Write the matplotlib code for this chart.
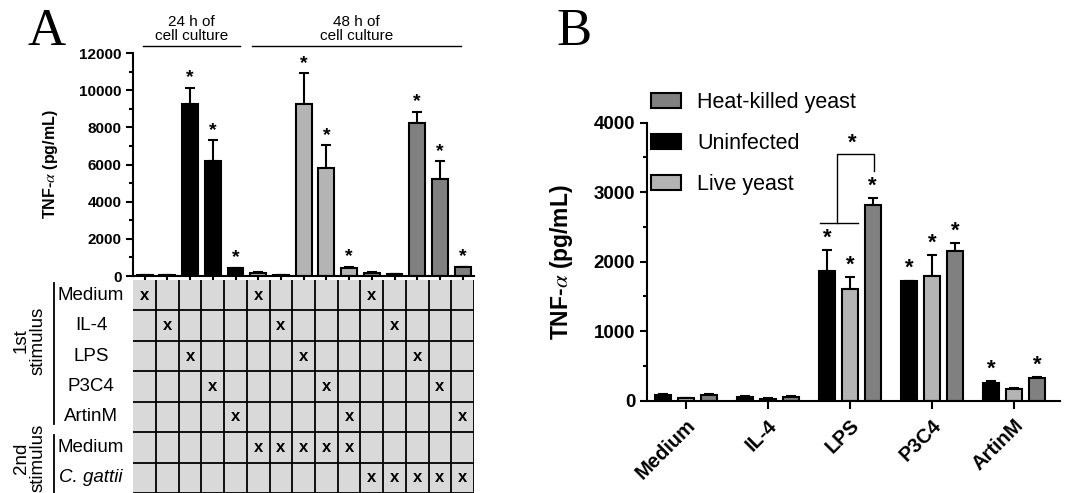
import numpy as np
import matplotlib
matplotlib.use("Agg")
import matplotlib.pyplot as plt
from matplotlib.patches import Patch
from matplotlib.ticker import MultipleLocator

plt.rcParams['font.family'] = ['Liberation Sans', 'DejaVu Sans']
plt.rcParams['mathtext.fontset'] = 'stix'

# ---------------- panel A data ----------------
a_vals = [60, 50, 9250, 6200, 410,
          180, 60, 9250, 5820, 450,
          180, 100, 8230, 5230, 460]
a_err = [20, 10, 880, 1100, 40,
         30, 10, 1660, 1220, 60,
         20, 10, 600, 940, 50]
a_colors = ['#000000'] * 5 + ['#b4b4b4'] * 5 + ['#808080'] * 5
a_star = [0, 0, 1, 1, 1, 0, 0, 1, 1, 1, 0, 0, 1, 1, 1]

row_labels = ['Medium', 'IL-4', 'LPS', 'P3C4', 'ArtinM', 'Medium', 'C. gattii']
first_stim = [0, 1, 2, 3, 4] * 3            # row index of 1st stimulus per column
second_stim = [None] * 5 + [5] * 5 + [6] * 5  # row index of 2nd stimulus per column

# ---------------- panel B data ----------------
groups = ['Medium', 'IL-4', 'LPS', 'P3C4', 'ArtinM']
uninfected = [80, 60, 1866, 1717, 259]
uninfected_err = [15, 10, 300, 12, 25]
live = [35, 30, 1612, 1794, 163]
live_err = [8, 8, 165, 300, 14]
heat = [75, 50, 2810, 2153, 321]
heat_err = [15, 12, 110, 110, 16]
b_star_un = [0, 0, 1, 1, 1]
b_star_live = [0, 0, 1, 1, 0]
b_star_heat = [0, 0, 1, 1, 1]

W, H = 1072, 493
fig = plt.figure(figsize=(W / 100, H / 100), dpi=100)


def box(l, t, r, b):
    return [l / W, 1 - b / H, (r - l) / W, (b - t) / H]


# ================= Panel A bars =================
ax = fig.add_axes(box(133.3, 53, 474, 276))
x = np.arange(len(a_vals))
ax.bar(x, a_vals, width=0.7, color=a_colors, edgecolor='black', linewidth=1.5, zorder=2)
ax.errorbar(x, a_vals, yerr=[np.zeros(len(a_err)), a_err], fmt='none', ecolor='black',
            elinewidth=1.5, capsize=3.5, capthick=1.5, zorder=1)
for xi, v, e, s in zip(x, a_vals, a_err, a_star):
    if s:
        ax.annotate('*', (xi, v + e), xytext=(0, 1), textcoords='offset points',
                    ha='center', va='bottom', fontsize=14, fontweight='bold')
ax.set_xlim(-0.5, 14.5)
ax.set_ylim(0, 12000)
ax.yaxis.set_major_locator(MultipleLocator(2000))
ax.yaxis.set_minor_locator(MultipleLocator(1000))
ax.set_xticks(x)
ax.set_xticklabels([])
ax.tick_params(axis='both', which='both', direction='out', width=1.5)
ax.tick_params(axis='y', which='major', length=5, labelsize=11)
ax.tick_params(axis='y', which='minor', length=3)
ax.tick_params(axis='x', length=5)
for lab in ax.get_yticklabels():
    lab.set_fontweight('bold')
for sp in ['top', 'right']:
    ax.spines[sp].set_visible(False)
for sp in ['left', 'bottom']:
    ax.spines[sp].set_linewidth(1.5)
ax.set_ylabel(r'TNF-$\alpha$ (pg/mL)', fontsize=11.5, fontweight='bold')
ax.yaxis.set_label_coords(-0.215, 0.5)

# culture-time brackets
ax.plot([-0.07, 4.2], [1.031, 1.031], color='black', lw=1, clip_on=False,
        transform=ax.get_xaxis_transform())
ax.plot([4.73, 13.93], [1.031, 1.031], color='black', lw=1, clip_on=False,
        transform=ax.get_xaxis_transform())
ax.text(2.07, 1.045, '24 h of\ncell culture', ha='center', va='bottom', fontsize=11,
        transform=ax.get_xaxis_transform(), linespacing=1.0)
ax.text(9.33, 1.045, '48 h of\ncell culture', ha='center', va='bottom', fontsize=11,
        transform=ax.get_xaxis_transform(), linespacing=1.0)

# ================= Panel A table =================
at = fig.add_axes(box(133.3, 280, 474, 493))
at.set_xlim(-0.5, 14.5)
at.set_ylim(7, 0)
at.set_facecolor('#d9d9d9')
at.vlines(np.arange(0.5, 15, 1), 0, 7, color='black', lw=1.3)
at.hlines(np.arange(1, 8), -0.5, 14.5, color='black', lw=1.3)
for c, r in enumerate(first_stim):
    at.text(c, r + 0.5, 'x', ha='center', va='center', fontsize=12, fontweight='bold')
for c, r in enumerate(second_stim):
    if r is not None:
        at.text(c, r + 0.5, 'x', ha='center', va='center', fontsize=12, fontweight='bold')
for i, lab in enumerate(row_labels):
    at.text(-2.36, i + 0.5, lab, ha='center', va='center', fontsize=13.5,
            style='italic' if lab.startswith('C.') else 'normal', clip_on=False)
at.plot([-3.99, -3.99], [0.1, 4.74], color='black', lw=1.3, clip_on=False)
at.plot([-3.99, -3.99], [5.1, 7.0], color='black', lw=1.3, clip_on=False)
at.text(-5.05, 2.0, '1st\nstimulus', rotation=90, ha='center', va='center', fontsize=13.5,
        multialignment='center', linespacing=1.0, clip_on=False)
at.text(-5.05, 5.85, '2nd\nstimulus', rotation=90, ha='center', va='center', fontsize=13.5,
        multialignment='center', linespacing=1.0, clip_on=False)
at.set_xticks([])
at.set_yticks([])
for sp in at.spines.values():
    sp.set_visible(False)

fig.text(28 / W, 1 - 45 / H, 'A', fontsize=38, family=['Liberation Serif', 'DejaVu Serif'],
         va='baseline')

# ================= Panel B =================
bx = fig.add_axes(box(647, 122.7, 1060, 400.7))
g = np.arange(len(groups))
off, bw = 0.28, 0.195
series = [(uninfected, uninfected_err, '#000000', b_star_un, -off),
          (live, live_err, '#b4b4b4', b_star_live, 0),
          (heat, heat_err, '#808080', b_star_heat, off)]
for vals, errs, col, stars, o in series:
    bx.bar(g + o, vals, width=bw, color=col, edgecolor='black', linewidth=1.5, zorder=2)
    bx.errorbar(g + o, vals, yerr=[np.zeros(len(errs)), errs], fmt='none', ecolor='black',
                elinewidth=1.5, capsize=3.5, capthick=1.5, zorder=1)
    for gi, v, e, s in zip(g, vals, errs, stars):
        if s:
            bx.annotate('*', (gi + o, v + e), xytext=(0, 1), textcoords='offset points',
                        ha='center', va='bottom', fontsize=16, fontweight='bold')
bx.set_xlim(-0.47, 4.56)
bx.set_ylim(0, 4000)
bx.yaxis.set_major_locator(MultipleLocator(1000))
bx.yaxis.set_minor_locator(MultipleLocator(500))
bx.set_xticks(g)
bx.set_xticklabels(groups, rotation=45, ha='right', rotation_mode='anchor',
                   fontsize=14.5, fontweight='bold')
bx.tick_params(axis='both', which='both', direction='out', width=1.5)
bx.tick_params(axis='y', which='major', length=5, labelsize=13.5)
bx.tick_params(axis='y', which='minor', length=3)
bx.tick_params(axis='x', length=6, pad=5)
for lab in bx.get_yticklabels():
    lab.set_fontweight('bold')
for sp in ['top', 'right']:
    bx.spines[sp].set_visible(False)
for sp in ['left', 'bottom']:
    bx.spines[sp].set_linewidth(1.5)
bx.set_ylabel(r'TNF-$\alpha$ (pg/mL)', fontsize=16.5, fontweight='bold')
bx.yaxis.set_label_coords(-0.174, 0.5)

# LPS significance bracket
bx.plot([1.634, 2.094], [2561, 2561], color='black', lw=1)
bx.plot([1.84, 1.84, 2.29, 2.29], [2561, 3544, 3544, 3305], color='black', lw=1)
bx.text(2.03, 3560, '*', ha='center', va='bottom', fontsize=16, fontweight='bold')

handles = [Patch(facecolor='#808080', edgecolor='black', lw=1.5),
           Patch(facecolor='#000000', edgecolor='black', lw=1.5),
           Patch(facecolor='#b4b4b4', edgecolor='black', lw=1.5)]
fig.legend(handles, ['Heat-killed yeast', 'Uninfected', 'Live yeast'], loc='upper left',
           bbox_to_anchor=(651 / W, 1 - 92 / H), frameon=False, fontsize=15.5,
           borderpad=0, borderaxespad=0, handlelength=1.4, handleheight=0.7,
           handletextpad=0.75, labelspacing=0.92)

fig.text(556 / W, 1 - 45 / H, 'B', fontsize=38, family=['Liberation Serif', 'DejaVu Serif'],
         va='baseline')

fig.savefig('out.png', dpi=100)
